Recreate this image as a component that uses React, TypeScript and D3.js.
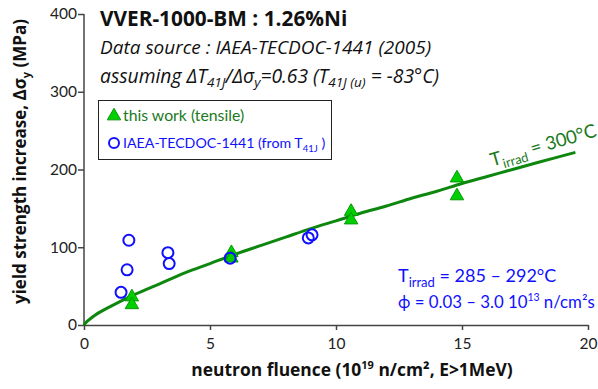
import { useEffect, useRef } from 'react'
import * as d3 from 'd3'

// this work (tensile): fluence (1e19 n/cm2), delta sigma_y (MPa)
const workFluence = [1.9, 1.9, 5.85, 5.85, 10.6, 10.6, 14.8, 14.8]
const workDsy = [36, 26, 93, 86, 146, 135, 189, 166]

// IAEA-TECDOC-1441 (from T41J)
const iaeaFluence = [1.47, 1.71, 1.78, 3.33, 3.38, 5.8, 8.9, 9.05]
const iaeaDsy = [42, 71, 109, 93, 79, 86, 112, 116]

// trend line (T_irrad = 300°C)
const trendFluence = [0, 0.1, 0.25, 0.5, 1, 2, 3, 4, 5, 6, 7, 8, 9, 10, 11, 12, 13, 14, 15, 16, 17, 18, 19.5]
const trendDsy = [0, 4, 8, 14, 23, 39, 53, 67, 79, 91, 102, 113, 124, 134, 144, 153, 163, 172, 182, 191, 200, 209, 222]

const xTicks = [0, 5, 10, 15, 20]
const yTicks = [0, 100, 200, 300, 400]

const FONT = 'Lato, "Open Sans", sans-serif'
const WIDE = '"Open Sans", Lato, sans-serif'
const GREEN = '#0e870e'
const GREEN_TXT = '#1b7a1b'
const BLUE = '#1010ff'

const App = () => {
  const ref = useRef<SVGSVGElement>(null)

  useEffect(() => {
    const svg = d3.select(ref.current)
    svg.selectAll('*').remove()

    const margin = { top: 14, right: 10, bottom: 64, left: 84 }
    const width = 598
    const height = 389

    const x = d3.scaleLinear().domain([0, 20]).range([margin.left, width - margin.right])
    const y = d3.scaleLinear().domain([0, 400]).range([height - margin.bottom, margin.top])

    const axisColor = '#444'

    // x axis
    const gx = svg.append('g').attr('transform', `translate(0,${y(0)})`)
    gx.call(d3.axisBottom(x).tickValues(xTicks).tickSize(5).tickSizeOuter(0))
    gx.selectAll('path, line').attr('stroke', axisColor).attr('stroke-width', 1.5)
    gx.selectAll('text')
      .attr('font-family', FONT)
      .attr('font-size', 15.5)
      .attr('fill', '#222')
      .attr('dy', '1.05em')

    // y axis
    const gy = svg.append('g').attr('transform', `translate(${x(0)},0)`)
    gy.call(d3.axisLeft(y).tickValues(yTicks).tickSize(6).tickSizeOuter(0))
    gy.selectAll('path, line').attr('stroke', axisColor).attr('stroke-width', 1.5)
    gy.selectAll('text')
      .attr('font-family', FONT)
      .attr('font-size', 15.5)
      .attr('fill', '#222')
      .attr('x', -7)
    gy.select('.domain').attr('d', `M0,${y(0)}V${y(400)}`)

    // trend line
    const trend = trendFluence.map((f, i) => [f, trendDsy[i]] as [number, number])
    const line = d3
      .line<[number, number]>()
      .x((d) => x(d[0]))
      .y((d) => y(d[1]))
      .curve(d3.curveCatmullRom)
    svg
      .append('path')
      .datum(trend)
      .attr('d', line)
      .attr('fill', 'none')
      .attr('stroke', GREEN)
      .attr('stroke-width', 3)

    // triangles
    const tri = d3.symbol().type(d3.symbolTriangle).size(78)
    svg
      .append('g')
      .selectAll('path')
      .data(workFluence.map((f, i) => [f, workDsy[i]]))
      .join('path')
      .attr('d', tri)
      .attr('transform', (d) => `translate(${x(d[0])},${y(d[1])})`)
      .attr('fill', '#00d000')
      .attr('stroke', '#089808')
      .attr('stroke-width', 1)

    // circles
    svg
      .append('g')
      .selectAll('circle')
      .data(iaeaFluence.map((f, i) => [f, iaeaDsy[i]]))
      .join('circle')
      .attr('cx', (d) => x(d[0]))
      .attr('cy', (d) => y(d[1]))
      .attr('r', 5.5)
      .attr('fill', 'none')
      .attr('stroke', BLUE)
      .attr('stroke-width', 2)

    // T_irrad = 300°C label along the curve
    const lbl = svg
      .append('text')
      .attr('transform', `translate(${x(16.2)},${y(204)}) rotate(-16)`)
      .attr('font-family', FONT)
      .attr('font-size', 18.5)
      .attr('fill', GREEN_TXT)
    lbl.append('tspan').text('T')
    lbl.append('tspan').attr('font-size', 13).attr('dy', 5).text('irrad')
    lbl.append('tspan').attr('dy', -5).text(' = 300°C')

    // header texts
    svg
      .append('text')
      .attr('x', 100)
      .attr('y', 26)
      .attr('font-family', WIDE)
      .attr('font-weight', 'bold')
      .attr('font-size', 20.8)
      .attr('fill', '#111')
      .text('VVER-1000-BM : 1.26%Ni')

    svg
      .append('text')
      .attr('x', 100)
      .attr('y', 54)
      .attr('font-family', WIDE)
      .attr('font-style', 'italic')
      .attr('font-size', 19)
      .attr('fill', '#111')
      .text('Data source : IAEA-TECDOC-1441 (2005)')

    const as = svg
      .append('text')
      .attr('x', 100)
      .attr('y', 83)
      .attr('font-family', WIDE)
      .attr('font-style', 'italic')
      .attr('font-size', 19.3)
      .attr('fill', '#111')
    as.append('tspan').text('assuming ΔT')
    as.append('tspan').attr('font-size', 13.5).attr('dy', 4).text('41J')
    as.append('tspan').attr('dy', -4).text('/Δσ')
    as.append('tspan').attr('font-size', 13.5).attr('dy', 4).text('y')
    as.append('tspan').attr('dy', -4).text('=0.63 (T')
    as.append('tspan').attr('font-size', 13.5).attr('dy', 4).text('41J (u)')
    as.append('tspan').attr('dy', -4).text(' = -83°C)')

    // legend
    const lg = svg.append('g')
    lg.append('rect')
      .attr('x', 98.5)
      .attr('y', 100.5)
      .attr('width', 233)
      .attr('height', 59)
      .attr('fill', 'white')
      .attr('stroke', '#222')
      .attr('stroke-width', 1)
    lg.append('path')
      .attr('d', tri)
      .attr('transform', 'translate(114,116)')
      .attr('fill', '#00d000')
      .attr('stroke', '#089808')
    lg.append('text')
      .attr('x', 123)
      .attr('y', 121)
      .attr('font-family', FONT)
      .attr('font-size', 15.8)
      .attr('fill', GREEN_TXT)
      .text('this work (tensile)')
    lg.append('circle')
      .attr('cx', 114)
      .attr('cy', 143)
      .attr('r', 5)
      .attr('fill', 'none')
      .attr('stroke', BLUE)
      .attr('stroke-width', 2)
    const lt = lg
      .append('text')
      .attr('x', 123)
      .attr('y', 148)
      .attr('font-family', FONT)
      .attr('font-size', 14.2)
      .attr('fill', BLUE)
    lt.append('tspan').text('IAEA-TECDOC-1441 (from T')
    lt.append('tspan').attr('font-size', 9.5).attr('dy', 4).text('41J')
    lt.append('tspan').attr('dy', -4).text(' )')

    // irradiation conditions
    const c1 = svg
      .append('text')
      .attr('x', 398)
      .attr('y', 282)
      .attr('font-family', FONT)
      .attr('font-size', 18)
      .attr('fill', BLUE)
    c1.append('tspan').text('T')
    c1.append('tspan').attr('font-size', 13).attr('dy', 5).text('irrad')
    c1.append('tspan').attr('dy', -5).text(' = 285 – 292°C')
    const c2 = svg
      .append('text')
      .attr('x', 398)
      .attr('y', 308)
      .attr('font-family', FONT)
      .attr('font-size', 16.8)
      .attr('fill', BLUE)
    c2.append('tspan').text('ϕ = 0.03 – 3.0 10')
    c2.append('tspan').attr('font-size', 10.5).attr('dy', -7).text('13')
    c2.append('tspan').attr('dy', 7).text(' n/cm²s')

    // axis titles
    const xt = svg
      .append('text')
      .attr('x', 352)
      .attr('y', 376)
      .attr('text-anchor', 'middle')
      .attr('font-family', WIDE)
      .attr('font-weight', 'bold')
      .attr('font-size', 17.4)
      .attr('fill', '#111')
    xt.append('tspan').text('neutron fluence  (10')
    xt.append('tspan').attr('font-size', 11).attr('dy', -7).text('19')
    xt.append('tspan').attr('dy', 7).text(' n/cm², E>1MeV)')

    const yt = svg
      .append('text')
      .attr('transform', `translate(26,${y(200) - 8}) rotate(-90)`)
      .attr('text-anchor', 'middle')
      .attr('font-family', WIDE)
      .attr('font-weight', 'bold')
      .attr('font-size', 17)
      .attr('fill', '#111')
    yt.append('tspan').text('yield strength increase, Δσ')
    yt.append('tspan').attr('font-size', 11).attr('dy', 4).text('y')
    yt.append('tspan').attr('dy', -4).text('  (MPa)')
  }, [])

  return (
    <svg
      ref={ref}
      width={598}
      height={389}
      style={{ position: 'absolute', left: 0, top: 0, background: 'white' }}
    />
  )
}

export default App
